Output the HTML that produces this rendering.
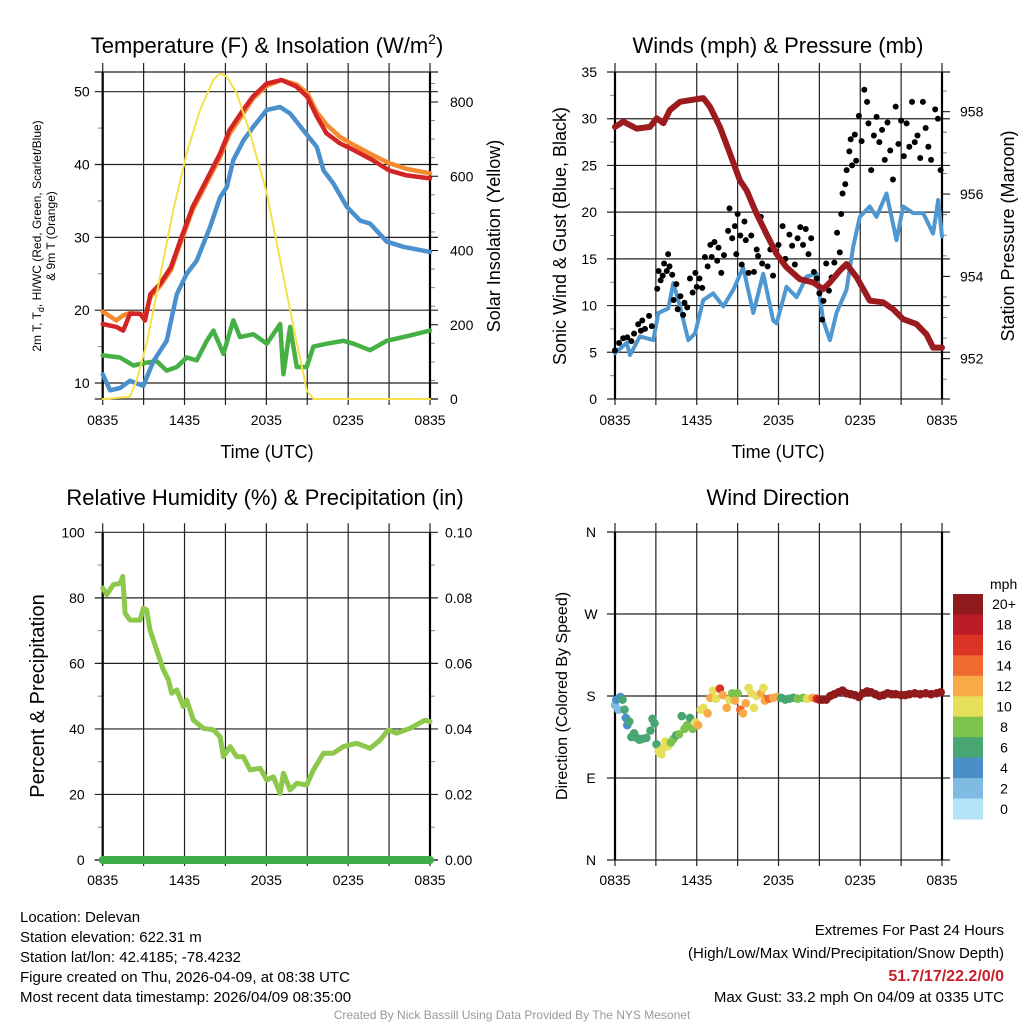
<!DOCTYPE html>
<html><head><meta charset="utf-8"><style>
html,body{margin:0;padding:0;background:#fff;}
svg{display:block;font-family:"Liberation Sans",Arial,sans-serif;}
</style></head><body>
<svg id="c" width="1024" height="1024" viewBox="0 0 1024 1024" xmlns="http://www.w3.org/2000/svg">
<text x="267" y="53" font-size="22" text-anchor="middle">Temperature (F) &amp; Insolation (W/m<tspan dy="-9" font-size="14">2</tspan><tspan dy="9">)</tspan></text>
<text x="778" y="53" font-size="22" text-anchor="middle">Winds (mph) &amp; Pressure (mb)</text>
<text x="265" y="505" font-size="22" text-anchor="middle">Relative Humidity (%) &amp; Precipitation (in)</text>
<text x="778" y="505" font-size="22" text-anchor="middle">Wind Direction</text>
<text x="267" y="458" font-size="18" text-anchor="middle">Time (UTC)</text>
<text x="778" y="458" font-size="18" text-anchor="middle">Time (UTC)</text>
<text transform="translate(41,236) rotate(-90)" font-size="12" text-anchor="middle">2m T, T<tspan dy="3" font-size="9">d</tspan><tspan dy="-3">, HI/WC (Red, Green, Scarlet/Blue)</tspan></text>
<text transform="translate(55,236) rotate(-90)" font-size="12" text-anchor="middle">&amp; 9m T (Orange)</text>
<text transform="translate(500,236) rotate(-90)" font-size="18" text-anchor="middle">Solar Insolation (Yellow)</text>
<text transform="translate(566,236) rotate(-90)" font-size="18" text-anchor="middle">Sonic Wind &amp; Gust (Blue, Black)</text>
<text transform="translate(1014,236) rotate(-90)" font-size="18" text-anchor="middle">Station Pressure (Maroon)</text>
<text transform="translate(44,696) rotate(-90)" font-size="20" text-anchor="middle">Percent &amp; Precipitation</text>
<text transform="translate(567,696) rotate(-90)" font-size="16" text-anchor="middle">Direction (Colored By Speed)</text>
<g font-size="15">
<text x="20" y="922">Location: Delevan</text>
<text x="20" y="942">Station elevation: 622.31 m</text>
<text x="20" y="962">Station lat/lon: 42.4185; -78.4232</text>
<text x="20" y="982">Figure created on Thu, 2026-04-09, at 08:38 UTC</text>
<text x="20" y="1002">Most recent data timestamp: 2026/04/09 08:35:00</text>
</g>
<g font-size="15" text-anchor="end">
<text x="1004" y="935">Extremes For Past 24 Hours</text>
<text x="1004" y="958">(High/Low/Max Wind/Precipitation/Snow Depth)</text>
<text x="1004" y="981" fill="#c8202a" font-weight="bold" font-size="16">51.7/17/22.2/0/0</text>
<text x="1004" y="1002">Max Gust: 33.2 mph On 04/09 at 0335 UTC</text>
</g>
<text x="512" y="1019" font-size="12" fill="#999" text-anchor="middle">Created By Nick Bassill Using Data Provided By The NYS Mesonet</text>
</svg>
<script>
// ---------- data ----------
const timeTicks=["0835","1435","2035","0235","0835"];
const tempTicks=[10,20,30,40,50];
const insolTicks=[0,200,400,600,800];
const windTicks=[0,5,10,15,20,25,30,35];
const presTicks=[952,954,956,958];
const rhTicks=[0,20,40,60,80,100];
const precipTicks=["0.00","0.02","0.04","0.06","0.08","0.10"];
const dirTicks=["N","E","S","W","N"];
const cbLabels=["20+","18","16","14","12","10","8","6","4","2","0"];
const cbColors=["#8f1a1c","#bb1c25","#db3427","#ef6a2e","#f8aa48","#e6df5a","#7cc24c","#48a672","#4a8fc7","#80bbe4","#b5e3f8"];

const tTemp=[0,1,1.5,2,2.75,3.1,3.5,4.2,5,5.7,6.6,7.6,8.6,9.3,10.3,11,12,13.1,14.2,15,15.7,16.4,17.4,18.4,19.8,21,22.3,24];
const redT=[18.1,17.7,17.2,19.5,19.5,18.6,22.2,23.6,25.9,29.6,34.2,37.8,41.5,44.7,47.5,49.3,51.1,51.6,50.7,49.3,46.6,44.3,42.9,42,40.6,39.2,38.5,38.1];
const orangeT=[19.8,18.6,19.3,19.6,19.5,19,21.8,23.3,25.5,29.2,33.8,37.4,41,44.2,47,49,50.8,51.6,51,49.8,47.2,45.5,43.8,42.7,41.3,40.2,39.4,38.8];
const tBlue=[0,0.54,1.27,2,2.98,3.72,4.69,5.43,6.16,6.89,7.87,8.61,9.1,9.58,10.32,11.05,12.03,13.01,13.74,14.72,15.7,16.19,16.92,17.9,18.88,19.6,20.83,22.05,24];
const blueT=[11.2,9,9.3,10.3,9.6,13,15.8,22.2,25,26.8,31.4,35.5,36.9,40.6,43.3,45.2,47.5,47.9,47,44.7,42.4,39.2,37.4,34.2,32.3,31.9,29.4,28.7,28];
const tGreen=[0,1.27,2.25,3.23,3.96,4.69,5.43,6.16,6.89,7.63,8.12,8.85,9.58,10.07,11.05,12.03,13.01,13.25,13.74,14.23,14.96,15.45,16.43,17.65,18.39,19.6,20.83,22.05,24];
const greenT=[13.8,13.5,12.4,12.8,13,11.7,12.2,13.5,13.1,15.8,17.2,14,18.6,16.3,16.7,15.4,18.1,11.2,17.7,12.2,12.2,15,15.4,15.8,15.4,14.5,15.8,16.3,17.2];
const tSolar=[0,2,2.49,3.23,4.21,5.18,6.16,7.14,8.12,8.61,9.1,9.83,10.81,12.03,13.01,13.99,14.96,15.45,24];
const solar=[0,6,51,150,330,509,662,779,860,877,868,823,716,554,374,195,24,0,0];

const tPres=[0,0.61,1.59,2.57,3.06,3.55,4.03,4.77,5.5,6.48,6.97,7.7,8.44,9.17,9.66,10.39,11.12,11.86,12.59,13.57,14.55,15.28,15.77,16.5,16.99,17.73,18.7,19.68,20.42,21.15,22.13,22.86,23.35,24];
const pres=[957.63,957.76,957.59,957.63,957.84,957.72,958.04,958.24,958.28,958.33,958.12,957.63,956.98,956.33,956.09,955.52,955.03,954.54,954.22,953.93,953.85,953.69,953.85,954.14,954.3,953.98,953.41,953.37,953.2,952.96,952.84,952.59,952.27,952.27];
const tWind=[0,0.86,1.1,1.83,2.81,3.18,3.91,4.28,4.77,5.38,5.87,6.48,7.21,7.95,8.68,9.41,10.15,10.88,11.61,11.86,12.59,13.33,14.06,14.79,15.28,15.77,16.26,16.99,17.48,17.97,18.7,19.19,19.93,20.66,21.15,21.88,22.62,23.35,23.72,24];
const wind=[4.9,6,4.7,6.7,6.3,9.2,9.7,12.4,9.9,6.3,7,10.6,11.3,9.9,11.7,14.1,9.2,13.4,8.4,8.1,12,10.9,13.1,13.4,8.4,6.3,9.2,11.7,16.3,19.5,20.6,19.5,22,17,20.6,19.9,19.9,17.7,21.3,17.4];
const tGust=[0,0.3,0.6,0.9,1.2,1.4,1.7,1.9,2,2.2,2.5,2.7,3.1,3.2,3.35,3.5,3.6,3.8,3.9,4,4.2,4.3,4.5,4.6,4.8,5,5.1,5.3,5.5,5.7,5.9,6,6.2,6.4,6.6,6.8,7,7.1,7.3,7.5,7.6,7.8,8,8.3,8.4,8.6,8.8,8.9,9,9.2,9.3,9.5,9.6,9.8,10,10.2,10.4,10.5,10.7,10.8,11,11.2,11.4,11.6,11.8,12,12.3,12.5,12.8,13,13.2,13.4,13.6,13.8,14,14.2,14.4,14.6,14.8,15,15.2,15.3,15.5,15.7,15.9,16.1,16.3,16.5,16.6,16.7,16.9,17,17.2,17.3,17.4,17.6,17.7,17.9,18.1,18.3,18.5,18.6,18.8,19,19.2,19.4,19.6,19.8,20,20.2,20.4,20.6,20.8,21,21.2,21.4,21.6,21.8,22,22.2,22.4,22.6,22.8,23,23.2,23.5,23.7,23.9];
const gust=[5.2,6,6.5,6.6,6.2,7,8,7.3,8.4,7.5,8.9,7.8,11.8,13.7,12.7,13.2,14.5,13.7,15.5,14.2,13.3,10.6,12.3,9.6,11,9,10.3,9.8,12.9,11.4,13.5,12,12.9,11.9,15.2,14.2,16.5,15.2,16.8,14.8,16.2,13.5,15.4,18,20.4,17.2,18.5,15.5,19.8,17.5,14.4,19,17,13.5,17.5,13.6,16,15.3,19.5,14.5,18,14.2,16,13.2,15.8,16.5,18.5,15,17.6,16.4,14.4,17.2,18.4,16.5,18.2,15.5,17.2,13.6,12.9,11.3,8.5,10.5,14.5,11.6,13,14.6,17.8,15.7,19.8,22,23,24.5,26.5,27.8,25,28.3,25.5,30.3,27.6,33.1,31.8,29.5,24.5,28.2,30.2,27.5,28.8,25.6,29.6,26.6,23.5,31.3,27.3,29.8,26,29.5,27,31.8,27.5,28.2,25.8,31.8,29,27,25.6,31,30,24.5];

const tRH=[0,0.29,0.78,1.27,1.47,1.64,2,2.74,2.98,3.23,3.47,3.96,4.45,4.82,5.06,5.43,5.92,6.16,6.65,7.38,8.12,8.61,8.85,9.34,9.83,10.32,10.81,11.54,12.03,12.52,13.01,13.25,13.74,14.23,14.96,15.45,16.19,16.92,17.65,18.63,19.61,20.34,20.95,21.56,22.54,23.64,24];
const rh=[83,81,84,84.4,86.5,75.3,73.2,73.2,76.8,76.3,70.2,64.1,58,55,50.9,51.9,46.8,48.8,42.7,40.2,39.7,37.6,31.5,34.6,31.5,31.5,27.5,28,24.4,25.4,20.3,26.5,21.4,23.4,22.9,27.5,32.6,32.6,34.6,35.6,34.1,36.6,39.7,38.7,40.2,42.7,42.2];
const tPrecip=[0,24];
const precip=[0,0];

const tDir=[0,0.1,0.25,0.4,0.55,0.7,0.8,0.9,1.05,1.2,1.4,1.6,1.8,2,2.3,2.6,2.75,2.9,3.05,3.2,3.4,3.55,3.7,3.9,4.1,4.3,4.5,4.7,4.9,5.1,5.3,5.5,5.7,5.9,6.1,6.3,6.5,6.8,7,7.2,7.4,7.7,7.9,8.2,8.4,8.6,8.8,9,9.2,9.4,9.6,9.8,10,10.2,10.4,10.7,10.9,11,11.3,11.6,11.9,12.2,12.5,12.8,13.1,13.4,13.8,14.1,14.5,14.8,15,15.2,15.5,15.8,16.1,16.4,16.7,17,17.3,17.6,17.9,18.2,18.5,18.8,19.1,19.4,19.7,20,20.3,20.6,21,21.3,21.6,22,22.4,22.8,23.2,23.6,23.9];
const dirDeg=[170,176,165,179,176,165,156,148,152,135,139,134,132,133,134,142,155,150,127,119,116,123,130,125,129,133,137,138,158,144,148,156,144,151,148,165,167,161,178,186,177,188,181,167,176,183,175,183,165,161,172,189,183,167,180,183,189,175,177,178,179,178,176,177,178,177,178,177,178,177,176,176,176,180,182,184,186,183,182,181,179,183,185,184,182,180,181,183,182,182,181,181,182,183,182,183,182,183,184];
const dirSpd=[3,4,3,4,6,6,5,4,6,6,6,6,6,6,6,6,6,6,6,10,10,10,10,11,8,8,7,9,7,8,8,6,9,10,13,10,11,12,12,10,11,16,12,12,10,9,12,8,15,12,13,10,10,10,11,12,10,12,15,12,12,7,7,7,6,8,8,11,12,16,18,20,20,21,21,22,22,21,22,22,21,22,22,21,22,21,22,21,22,21,22,22,21,22,21,22,22,22,22];

// ---------- drawing ----------
const svg=document.getElementById('c');
const NS='http://www.w3.org/2000/svg';
function mk(tag,attrs,parent){const e=document.createElementNS(NS,tag);for(const k in attrs)e.setAttribute(k,attrs[k]);(parent||svg).appendChild(e);return e;}
function scale(d0,d1,r0,r1){return v=>r0+(v-d0)/(d1-d0)*(r1-r0);}
function polyline(ts,vs,xs,ys,color,w,name,parent){
  const p=ts.map((t,i)=>xs(t).toFixed(1)+','+ys(vs[i]).toFixed(1)).join(' ');
  const e=mk('polyline',{points:p,fill:'none',stroke:color,'stroke-width':w,'stroke-linejoin':'round','stroke-linecap':'round'},parent);
  
  
  return e;
}
function frame(x0,x1,y0,y1,name){
  const g=mk('g',{});
  
  
  for(let i=0;i<=8;i++){const x=x0+(x1-x0)*i/8;mk('line',{x1:x,y1:y0-9,x2:x,y2:y1+6,stroke:'#222','stroke-width':1.2},g);}
  return g;
}
function hgrid(g,x0,x1,y){mk('line',{x1:x0-8,y1:y,x2:x1+8,y2:y,stroke:'#222','stroke-width':1.2},g);}
function xTickLabels(g,x0,x1,y){timeTicks.forEach((s,i)=>{const t=mk('text',{x:x0+(x1-x0)*i/4,y:y,'font-size':14,'text-anchor':'middle'},g);t.textContent=s;});}
function border(g,x0,x1,y0,y1){mk('line',{x1:x0,y1:y0,x2:x0,y2:y1,stroke:'#000','stroke-width':2.2},g);mk('line',{x1:x1,y1:y0,x2:x1,y2:y1,stroke:'#000','stroke-width':2.2},g);}
let curY0=0,curY1=1024;
function minor(g,x,y,dir){if(y<curY0-1||y>curY1+1)return;mk('line',{x1:x,y1:y,x2:x+dir*5,y2:y,stroke:'#888','stroke-width':1},g);}

// Panel 1
(function(){
 const x0=102.7,x1=430,y0=72,y1=399;curY0=y0;curY1=y1;
 const xs=scale(0,24,x0,x1), ys=scale(10,50,383,91.7), ysR=scale(0,800,399,102);
 const g=frame(x0,x1,y0,y1,'temp-plot-area');
 hgrid(g,x0,x1,y0);hgrid(g,x0,x1,y1);
 tempTicks.forEach(v=>{hgrid(g,x0,x1,ys(v));const t=mk('text',{x:x0-13,y:ys(v)+5,'font-size':14,'text-anchor':'end'},g);t.textContent=v;minor(g,x0,ys(v+5),-1);});
 insolTicks.forEach(v=>{mk('line',{x1:x1,y1:ysR(v),x2:x1+8,y2:ysR(v),stroke:'#000'},g);const t=mk('text',{x:x1+20,y:ysR(v)+5,'font-size':14},g);t.textContent=v;minor(g,x1,ysR(v+100),1);minor(g,x1,ysR(v+50),1);minor(g,x1,ysR(v+150),1);});
 xTickLabels(g,x0,x1,425);border(g,x0,x1,y0,y1);
 polyline(tGreen,greenT,xs,ys,'#46b045',4.5,'dewpoint-line');
 polyline(tBlue,blueT,xs,ys,'#4a90cc',4.5,'windchill-line');
 polyline(tTemp,orangeT,xs,ys,'#f58a2e',4.5,'temp-9m-line');
 polyline(tTemp,redT,xs,ys,'#d42525',4.5,'temp-2m-line');
 polyline(tSolar,solar,xs,ysR,'#f8e04a',2,'insolation-line');
})();

// Panel 2
(function(){
 const x0=615,x1=942,y0=72,y1=399;curY0=y0;curY1=y1;
 const xs=scale(0,24,x0,x1), ys=scale(0,35,399,72), ysR=scale(952,958,358.7,111.7);
 const g=frame(x0,x1,y0,y1,'wind-plot-area');
 windTicks.forEach(v=>{hgrid(g,x0,x1,ys(v));const t=mk('text',{x:x0-18,y:ys(v)+5,'font-size':14,'text-anchor':'end'},g);t.textContent=v;if(v<35)minor(g,x0,ys(v+2.5),-1);});
 presTicks.forEach(v=>{mk('line',{x1:x1,y1:ysR(v),x2:x1+8,y2:ysR(v),stroke:'#000'},g);const t=mk('text',{x:x1+18,y:ysR(v)+5,'font-size':14},g);t.textContent=v;minor(g,x1,ysR(v+0.5),1);minor(g,x1,ysR(v+1),1);minor(g,x1,ysR(v+1.5),1);minor(g,x1,ysR(v-0.5),1);});
 xTickLabels(g,x0,x1,425);border(g,x0,x1,y0,y1);
 polyline(tWind,wind,xs,ys,'#4e97d1',4,'sustained-wind-line');
 const gg=mk('g',{});
 
 
 tGust.forEach((t,i)=>{const c=mk('circle',{cx:xs(t),cy:ys(gust[i]),r:3,fill:'#000'},gg);
  
  });
 polyline(tPres,pres,xs,ysR,'#9b1b1e',6,'pressure-line');
})();

// Panel 3
(function(){
 const x0=102.7,x1=430,y0=532.3,y1=860;curY0=y0;curY1=y1;
 const xs=scale(0,24,x0,x1), ys=scale(0,100,860,532.3), ysR=scale(0,0.10,860,532.3);
 const g=frame(x0,x1,y0,y1,'rh-plot-area');
 rhTicks.forEach(v=>{hgrid(g,x0,x1,ys(v));const t=mk('text',{x:x0-18,y:ys(v)+5,'font-size':14,'text-anchor':'end'},g);t.textContent=v;if(v<100)minor(g,x0,ys(v+10),-1);});
 precipTicks.forEach((s,i)=>{const t=mk('text',{x:x1+15,y:ys(i*20)+5,'font-size':14},g);t.textContent=s;if(i<5)minor(g,x1,ys(i*20+10),1);});
 xTickLabels(g,x0,x1,885);border(g,x0,x1,y0,y1);
 polyline(tRH,rh,xs,ys,'#8cc84b',5,'rh-line');
 polyline(tPrecip,precip,xs,ysR,'#3fae49',8,'precip-line');
 mk('line',{x1:x0-8,y1:860,x2:x1+8,y2:860,stroke:'#222','stroke-width':1.2},g);
})();

// Panel 4
(function(){
 const x0=615,x1=942,y0=532,y1=860;curY0=y0;curY1=y1;
 const xs=scale(0,24,x0,x1), ys=scale(0,360,860,532);
 const g=frame(x0,x1,y0,y1,'direction-plot-area');
 dirTicks.forEach((s,i)=>{const y=ys(i*90);hgrid(g,x0,x1,y);const t=mk('text',{x:x0-24,y:y+5,'font-size':14,'text-anchor':'middle'},g);t.textContent=s;});
 xTickLabels(g,x0,x1,885);border(g,x0,x1,y0,y1);
 const gg=mk('g',{});
 
 
 function col(s){const idx=s>=20?0:10-Math.floor(s/2);return cbColors[Math.max(0,Math.min(10,idx))];}
 tDir.forEach((t,i)=>{const c=mk('circle',{cx:xs(t),cy:ys(dirDeg[i]),r:4.3,fill:col(dirSpd[i])},gg);
  
  });
 const cb=mk('g',{});
 
 
 const h=(819-594)/11;
 const tt=mk('text',{x:990,y:589,'font-size':14},cb);tt.textContent='mph';
 cbLabels.forEach((s,i)=>{mk('rect',{x:953,y:594+i*h,width:30,height:h+0.5,fill:cbColors[i]},cb);const t=mk('text',{x:1004,y:594+i*h+h/2+5,'font-size':14,'text-anchor':'middle'},cb);t.textContent=s;});
})();
</script>
</body></html>
